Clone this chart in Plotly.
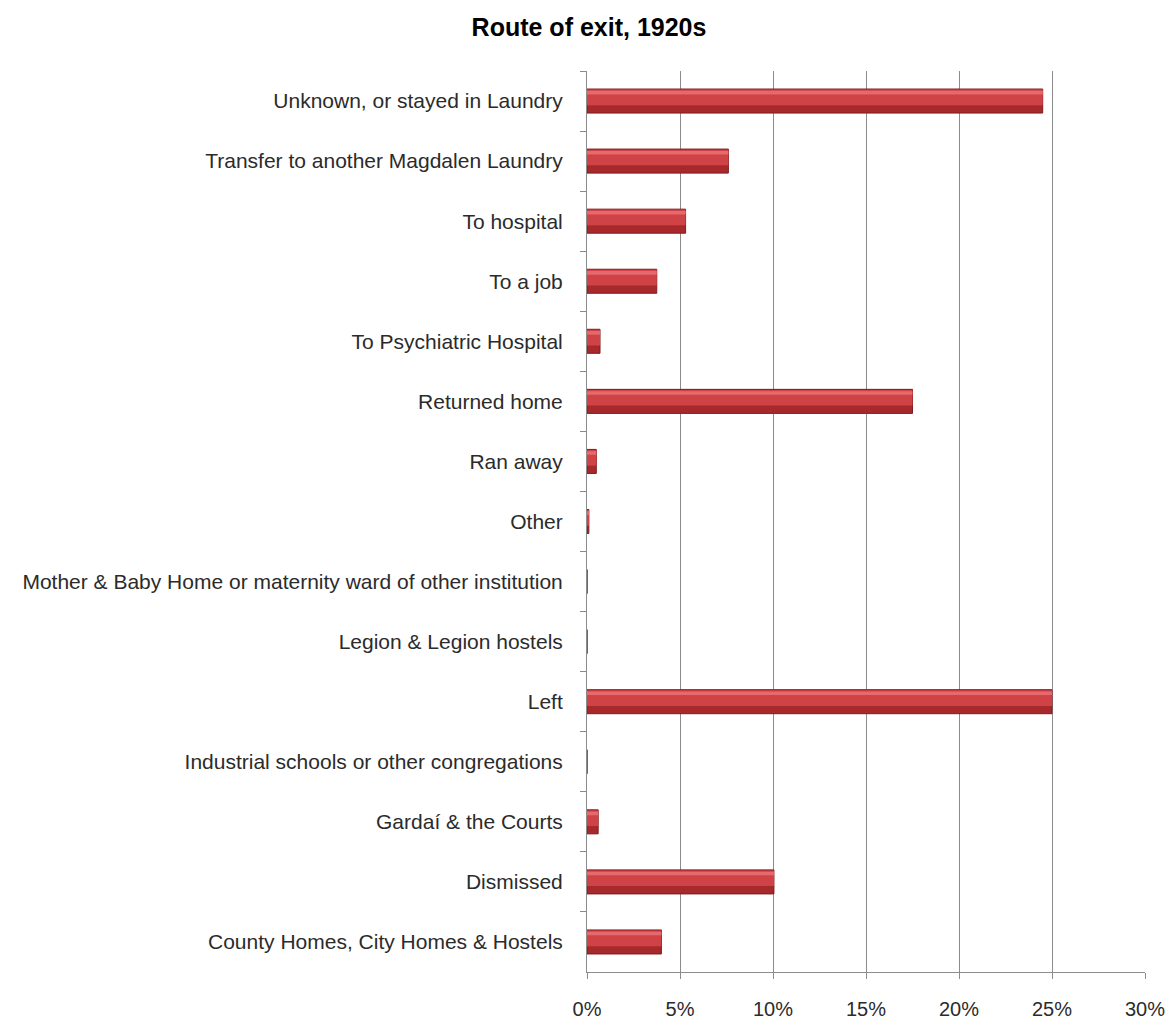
import plotly.graph_objects as go

categories = [
    "Unknown, or stayed in Laundry",
    "Transfer to another Magdalen Laundry",
    "To hospital",
    "To a job",
    "To Psychiatric Hospital",
    "Returned home",
    "Ran away",
    "Other",
    "Mother & Baby Home or maternity ward of other institution",
    "Legion & Legion hostels",
    "Left",
    "Industrial schools or other congregations",
    "Gardaí & the Courts",
    "Dismissed",
    "County Homes, City Homes & Hostels",
]
values = [24.5, 7.6, 5.3, 3.75, 0.7, 17.5, 0.5, 0.1, 0.0, 0.0, 25.0, 0.0, 0.6, 10.05, 4.0]
x_ticks = [0, 5, 10, 15, 20, 25, 30]
x_tick_labels = ["0%", "5%", "10%", "15%", "20%", "25%", "30%"]
title_text = "Route of exit, 1920s"

fracs = [v / 100 for v in values]

W, H = 1168, 1013  # page body has an 8px margin

fig = go.Figure()
# base (darker) bar
fig.add_trace(go.Bar(
    y=categories, x=fracs, orientation="h", width=0.4,
    marker=dict(color="#A8292C", line=dict(color="#7E1D20", width=1)),
    hoverinfo="x+y", showlegend=False,
))
# main body
fig.add_trace(go.Bar(
    y=categories, x=fracs, orientation="h", width=0.26, offset=-0.19,
    marker=dict(color="#CF4346", line=dict(width=0)),
    hoverinfo="skip", showlegend=False,
))
# bright stripe near top
fig.add_trace(go.Bar(
    y=categories, x=fracs, orientation="h", width=0.06, offset=-0.17,
    marker=dict(color="#E6696D", line=dict(width=0)),
    hoverinfo="skip", showlegend=False,
))

fig.update_layout(
    width=W, height=H,
    barmode="overlay",
    paper_bgcolor="white", plot_bgcolor="white",
    margin=dict(l=579, r=31, t=63, b=49, autoexpand=False),
    font=dict(family="Liberation Sans, Arial, sans-serif", color="#2b2b2b", size=21),
    title=dict(text="<b>" + title_text + "</b>", x=581 / W, xanchor="center",
               y=1 - 19 / H, yanchor="middle",
               font=dict(size=25, color="#000000")),
)
fig.update_xaxes(
    range=[0, 0.30], tickvals=[t / 100 for t in x_ticks], ticktext=x_tick_labels,
    showgrid=True, gridcolor="#8C8C8C", gridwidth=1,
    showline=True, linecolor="#8C8C8C", linewidth=1,
    ticks="outside", ticklen=6, tickcolor="#8C8C8C",
    ticklabelstandoff=13, tickfont=dict(size=20, color="#2b2b2b"),
    zeroline=False, fixedrange=True, automargin=False,
)
fig.update_yaxes(
    categoryorder="array", categoryarray=categories, autorange="reversed",
    showline=True, linecolor="#8C8C8C", linewidth=1,
    ticks="outside", ticklen=6, tickcolor="#8C8C8C", tickson="boundaries",
    ticklabelstandoff=19, tickfont=dict(size=21, color="#2b2b2b"),
    showgrid=False, fixedrange=True, automargin=False,
)

fig.write_html("out.html")
